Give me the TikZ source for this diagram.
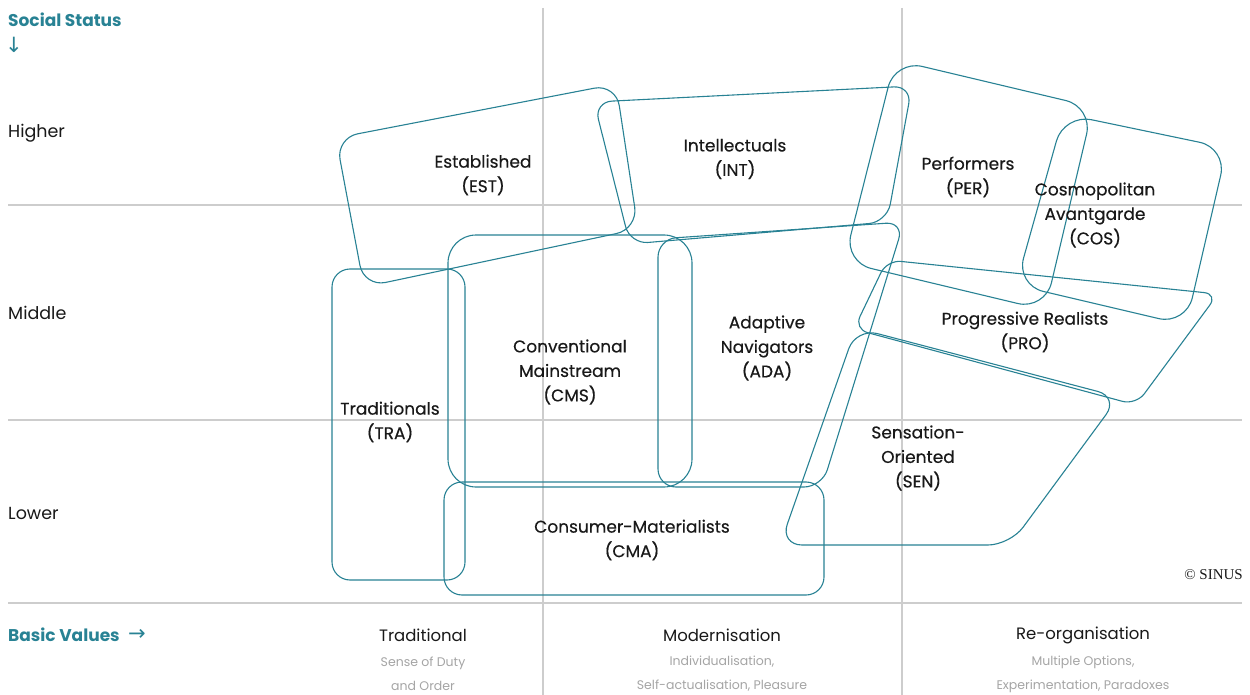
\documentclass[tikz,border=0pt]{standalone}
\usepackage{fontspec}
\setmainfont{Poppins}
\newfontfamily\labfont{Poppins}[FakeBold=0.4]
\newfontfamily\serfont{Liberation Serif}
\newfontfamily\arrfont{DejaVu Sans}
\definecolor{teal1}{RGB}{40,130,148}
\definecolor{gridg}{RGB}{205,205,205}
\definecolor{txt}{RGB}{25,25,25}
\definecolor{subg}{RGB}{165,165,165}
\begin{document}
\begin{tikzpicture}[x=1pt,y=-1pt,
  seg/.style={draw=teal1, line width=1.1pt},
  gridline/.style={draw=gridg, line width=1.3pt},
  lab/.style={align=center, font=\labfont\fontsize{17}{24.5}\selectfont, text=txt, inner sep=0pt},
  axlab/.style={anchor=west, font=\fontsize{17.5}{20}\selectfont, text=txt, inner sep=0pt},
  axtitle/.style={anchor=west, font=\fontsize{17}{20}\selectfont\bfseries, text=teal1, inner sep=0pt},
  arrlab/.style={anchor=west, inner sep=0pt, text=teal1, font=\arrfont\fontsize{21}{22}\selectfont},
  coltitle/.style={align=center, font=\fontsize{16.5}{20}\selectfont, text=txt, inner sep=0pt},
  colsub/.style={align=center, font=\fontsize{12.5}{24}\selectfont, text=subg, inner sep=0pt}
]
\useasboundingbox (0,0) rectangle (1250,695);
\fill[white] (0,0) rectangle (1250,695);
% grid
\draw[gridline] (8,205) -- (1242,205);
\draw[gridline] (8,420) -- (1242,420);
\draw[gridline] (8,603) -- (1242,603);
\draw[gridline] (543,8) -- (543,695);
\draw[gridline] (902,8) -- (902,695);
% segments
\draw[seg, rounded corners=22pt] (336,138) -- (616,84) -- (638,229) -- (364,287) -- cycle;
\draw[seg, rounded corners=18pt] (594,102) -- (912,86) -- (887,222) -- (630,244) -- cycle;
\draw[seg, rounded corners=28pt] (895,60) -- (1093,107) -- (1045,310) -- (844,262) -- cycle;
\draw[seg, rounded corners=28pt] (1064,114) -- (1227,148) -- (1186,325) -- (1016,285) -- cycle;
\draw[seg, rounded corners=14pt] (887,260) -- (1218,294) -- (1136,405) -- (854,329) -- cycle;
\draw[seg, rounded corners=22pt] (856,328) -- (1119,397) -- (1010,545) -- (780,545) -- cycle;
\draw[seg, rounded corners=18pt] (658,239) -- (904,222) -- (822,487) -- (658,487) -- cycle;
\draw[seg, rounded corners=28pt] (448,235) rectangle (692,487);
\draw[seg, rounded corners=18pt] (332,269) rectangle (465,580);
\draw[seg, rounded corners=18pt] (444,482) rectangle (824,595);
% segment labels
\node[lab] (est) at (483,175) {Established\\(EST)};
\node[lab] (int) at (735,159) {Intellectuals\\(INT)};
\node[lab] (per) at (968,177) {Performers\\(PER)};
\node[lab] (cos) at (1095,215) {Cosmopolitan\\Avantgarde\\(COS)};
\node[lab] (pro) at (1025,332) {Progressive Realists\\(PRO)};
\node[lab] (ada) at (767,348) {Adaptive\\Navigators\\(ADA)};
\node[lab] (cms) at (570,372) {Conventional\\Mainstream\\(CMS)};
\node[lab] (tra) at (390,422) {Traditionals\\(TRA)};
\node[lab] (sen) at (918,458) {Sensation-\\Oriented\\(SEN)};
\node[lab] (cma) at (632,540) {Consumer-Materialists\\(CMA)};
% axes
\node[axtitle] (ss) at (8,20) {Social Status};
\node[arrlab] (ssarr) at (5,45) {↓};
\node[axlab] (hi) at (8,133) {Higher};
\node[axlab] (mi) at (8,313) {Middle};
\node[axlab] (lo) at (8,513) {Lower};
\node[axtitle] (bv) at (8,635) {Basic Values};
\node[arrlab] (bvarr) at (128,635) {→};
\node[coltitle] (c1) at (423,635) {Traditional};
\node[colsub] (s1) at (423,674) {Sense of Duty\\and Order};
\node[coltitle] (c2) at (722,635) {Modernisation};
\node[colsub] (s2) at (722,674) {Individualisation,\\Self-actualisation, Pleasure};
\node[coltitle] (c3) at (1083,635) {Re-organisation};
\node[colsub] (s3) at (1083,674) {Multiple Options,\\Experimentation, Paradoxes};
\node[anchor=east, inner sep=0pt, text=txt, font=\serfont\fontsize{15}{17}\selectfont] (cp) at (1243,575) {© SINUS};
\end{tikzpicture}
\end{document}
